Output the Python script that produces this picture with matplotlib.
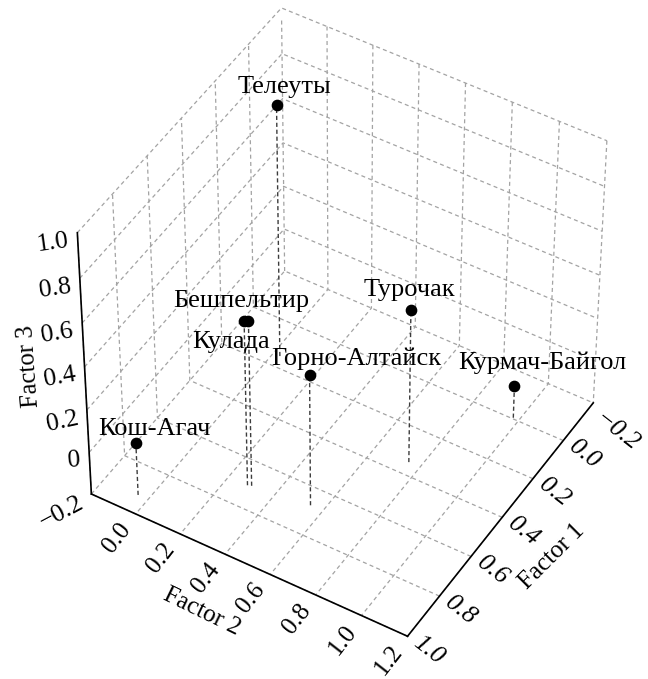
#!/usr/bin/env python3
import matplotlib
matplotlib.use('Agg')
import matplotlib.pyplot as plt
from mpl_toolkits.mplot3d import proj3d

names = ['Телеуты', 'Бешпельтир', 'Кулада', 'Горно-Алтайск', 'Турочак', 'Курмач-Байгол', 'Кош-Агач']
factor1 = [0.150, 0.700, 0.705, 0.675, 0.345, -0.005, 0.925]
factor2 = [0.030, 0.300, 0.285, 0.545, 0.750, 0.975, -0.045]
factor3 = [0.950, 0.570, 0.570, 0.415, 0.515, -0.050, 0.050]

f1_ticks = [-0.2, 0.0, 0.2, 0.4, 0.6, 0.8, 1.0]
f2_ticks = [-0.2, 0.0, 0.2, 0.4, 0.6, 0.8, 1.0, 1.2]
f3_ticks = [-0.2, 0.0, 0.2, 0.4, 0.6, 0.8, 1.0]
f1_labels = ['−0.2', '0.0', '0.2', '0.4', '0.6', '0.8', '1.0']
f2_labels = ['', '0.0', '0.2', '0.4', '0.6', '0.8', '1.0', '1.2']
f3_labels = ['−0.2', '0', '0.2', '0.4', '0.6', '0.8', '1.0']

GRID = '#a3a3a3'
DASH = (0, (3.2, 2.6))

plt.rcParams['font.family'] = ['Liberation Serif', 'DejaVu Serif']
plt.rcParams['grid.color'] = GRID
plt.rcParams['grid.linewidth'] = 0.9
plt.rcParams['grid.linestyle'] = DASH

fig = plt.figure(figsize=(6.48, 6.79), dpi=100)
ax = fig.add_axes([0.0177, 0.0566, 1, 0.9173], projection='3d')
# reference box is not square on the page, so skip the square axes step
ax.apply_aspect = lambda position=None: ax._set_position(ax.get_position(original=True), 'active')

ax.set_xlim(-0.2, 1.0, view_margin=0)
ax.set_ylim(-0.2, 1.2, view_margin=0)
ax.set_zlim(-0.2, 1.0, view_margin=0)
ax.view_init(elev=47.6882, azim=31.1136)
ax.set_proj_type('persp', focal_length=1.592)
ax.set_box_aspect((3.7854, 3.7649, 4.0631))

# the -0.2 grid lines of x and y would lie on top of the z ones and look solid
ax.set_xticks(f1_ticks[1:])
ax.set_yticks(f2_ticks[1:])
ax.set_zticks(f3_ticks)
ax.set_xticklabels([])
ax.set_yticklabels([])
ax.set_zticklabels([])

for axis in (ax.xaxis, ax.yaxis, ax.zaxis):
    axis.set_pane_color((1, 1, 1, 0))
    axis.pane.set_edgecolor((1, 1, 1, 0))
    axis.line.set_visible(False)
    axis._axinfo['tick']['inward_factor'] = 0
    axis._axinfo['tick']['outward_factor'] = 0

# back vertical edge, lost with the ticks above
ax.plot([-0.2, -0.2], [-0.2, -0.2], [-0.2, 1.0], color=GRID, lw=0.9, ls=DASH)

# solid front edges
ax.plot([1.0, 1.0], [-0.2, 1.2], [-0.2, -0.2], color='black', lw=1.2)
ax.plot([-0.2, 1.0], [1.2, 1.2], [-0.2, -0.2], color='black', lw=1.2)
ax.plot([1.0, 1.0], [-0.2, -0.2], [-0.2, 1.0], color='black', lw=1.2)

M = ax.get_proj()


def to2d(x, y, z):
    xp, yp, _ = proj3d.proj_transform(x, y, z, M)
    return xp, yp


def put(text, x, y, z, dx, dy, **kw):
    ax.annotate(text, xy=to2d(x, y, z), xytext=(dx, dy), textcoords='offset pixels',
                fontsize=kw.pop('fontsize', 18.5), color='black', rotation_mode='anchor', **kw)


# stems and points
for x, y, z in zip(factor1, factor2, factor3):
    ax.plot([x, x], [y, y], [-0.2, z], color='#3c3c3c', lw=1.0, ls=(0, (3, 2)))
    ax.plot([x], [y], [z], 'o', color='black', ms=7.4, zorder=5)

label_offsets = {
    'Телеуты': (8, 12),
    'Бешпельтир': (-7, 14),
    'Кулада': (-13, -27),
    'Горно-Алтайск': (47, 10),
    'Турочак': (-2, 14),
    'Курмач-Байгол': (28, 17),
    'Кош-Агач': (19, 8),
}
for name, x, y, z in zip(names, factor1, factor2, factor3):
    dx, dy = label_offsets[name]
    put(name, x, y, z, dx, dy, ha='center', va='baseline', fontsize=19)

# tick labels
for t, lab in zip(f1_ticks, f1_labels):
    dx, dy = (23, -29) if lab.startswith('−') else (21, -14)
    put(lab, t, 1.2, -0.2, dx, dy, ha='center', va='center', rotation=-38, style='italic')
for t, lab in zip(f2_ticks, f2_labels):
    put(lab, 1.0, t, -0.2, -19, -24, ha='center', va='center', rotation=52, fontsize=18)
f3_rotation = [28, 4, 12, 10, 9, 8, 8]
for t, lab, rot in zip(f3_ticks, f3_labels, f3_rotation):
    put(lab, 1.0, -0.2, t, -9, -8, ha='right', va='center', rotation=rot)

# axis titles
W, H = 648, 679
fig.text(552 / W, 1 - 557 / H, 'Factor 1', rotation=45, rotation_mode='anchor',
         ha='center', va='center', fontsize=18)
fig.text(202 / W, 1 - 612 / H, 'Factor 2', rotation=-26, rotation_mode='anchor',
         ha='center', va='center', fontsize=18)
fig.text(29 / W, 1 - 366 / H, 'Factor 3', rotation=94, rotation_mode='anchor',
         ha='center', va='center', fontsize=18)

fig.savefig('out.png', dpi=100)
